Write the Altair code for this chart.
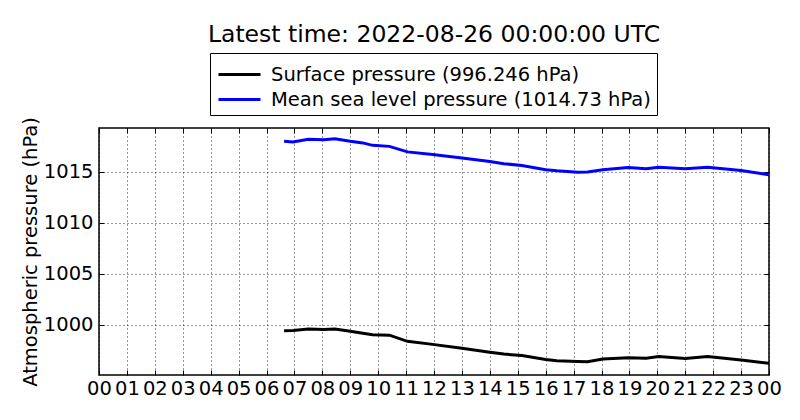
import altair as alt
import pandas as pd

# hours since 00 UTC
hours = [6.63, 6.95, 7.5, 8.05, 8.45, 9.0, 9.45, 9.8, 10.4, 11.05, 11.95,
         13.0, 14.0, 14.5, 15.15, 16.0, 16.4, 17.15, 17.5, 18.05, 18.95,
         19.6, 20.05, 21.0, 21.8, 23.0, 24.0]

msl = [1018.0, 1017.94, 1018.2, 1018.15, 1018.24, 1018.0, 1017.84, 1017.6,
       1017.5, 1016.96, 1016.7, 1016.37, 1016.02, 1015.8, 1015.63, 1015.2,
       1015.1, 1014.97, 1015.0, 1015.2, 1015.42, 1015.3, 1015.46, 1015.3,
       1015.46, 1015.13, 1014.73]

surface = [999.44, 999.45, 999.6, 999.57, 999.6, 999.38, 999.2, 999.05,
           999.0, 998.4, 998.1, 997.72, 997.32, 997.15, 997.0, 996.62,
           996.5, 996.42, 996.4, 996.67, 996.8, 996.75, 996.9, 996.72,
           996.9, 996.57, 996.25]

series = ["Surface pressure (996.246 hPa)",
          "Mean sea level pressure (1014.73 hPa)"]
colors = ["black", "blue"]

hour_ticks = list(range(25))
p_ticks = [1000, 1005, 1010, 1015]

df = pd.concat([
    pd.DataFrame({"hour": hours, "pressure": surface, "series": series[0]}),
    pd.DataFrame({"hour": hours, "pressure": msl, "series": series[1]}),
])

font = "DejaVu Sans"
x_scale = alt.Scale(domain=[0, 24], nice=False)
y_scale = alt.Scale(domain=[995.1, 1019.3], nice=False, zero=False)

base = alt.Chart(df)

lines = base.mark_line(strokeWidth=3, clip=True).encode(
    x=alt.X("hour:Q", scale=x_scale,
            axis=alt.Axis(values=hour_ticks, title=None, labelOverlap=False,
                          labelFlush=False, labelPadding=4,
                          labelExpr="(datum.value % 24 < 10 ? '0' : '') + (datum.value % 24)")),
    y=alt.Y("pressure:Q", scale=y_scale,
            axis=alt.Axis(values=p_ticks, format="d",
                          title="Atmospheric pressure (hPa)")),
    color=alt.Color("series:N",
                    scale=alt.Scale(domain=series, range=colors),
                    legend=alt.Legend(title=None, orient="none",
                                      legendX=111, legendY=-75,
                                      direction="vertical")),
    order=alt.Order("hour:Q"),
)


def tick_layer(x_orient, y_orient):
    # matplotlib-style inward ticks: axis pulled 5px inside the frame
    tick_axis = dict(labels=False, grid=False, ticks=True, tickSize=5,
                     tickColor="black", tickWidth=1, offset=-5, title=None)
    return base.mark_point(opacity=0).encode(
        x=alt.X("hour:Q", scale=x_scale,
                axis=alt.Axis(orient=x_orient, values=hour_ticks, **tick_axis)),
        y=alt.Y("pressure:Q", scale=y_scale,
                axis=alt.Axis(orient=y_orient, values=p_ticks, **tick_axis)),
    )


chart = alt.layer(
    lines, tick_layer("bottom", "left"), tick_layer("top", "right")
).resolve_axis(
    x="independent", y="independent"
).properties(
    width=670, height=247,
    title=alt.Title("Latest time: 2022-08-26 00:00:00 UTC",
                    fontSize=23.5, font=font, fontWeight="normal", offset=6),
    padding={"left": 12, "top": 15, "right": 10, "bottom": 5},
).configure_view(
    stroke="black", strokeWidth=1.5
).configure_axis(
    labelFont=font, labelFontSize=19.5, labelColor="black",
    titleFont=font, titleFontSize=19.5, titleFontWeight="normal", titleColor="black",
    domain=False, ticks=False, labelPadding=6, titlePadding=3,
    grid=True, gridColor="black", gridDash=[1, 3], gridWidth=0.8, gridOpacity=1,
).configure_legend(
    labelFont=font, labelFontSize=19.5, labelColor="black", labelLimit=500,
    strokeColor="black", fillColor="white", padding=6,
    symbolType="M-1.5,0L1.5,0", symbolSize=784, symbolStrokeWidth=3,
    symbolOffset=8, labelOffset=16, rowPadding=0,
)

chart.save("out.html", embed_options={"renderer": "svg", "actions": False})
